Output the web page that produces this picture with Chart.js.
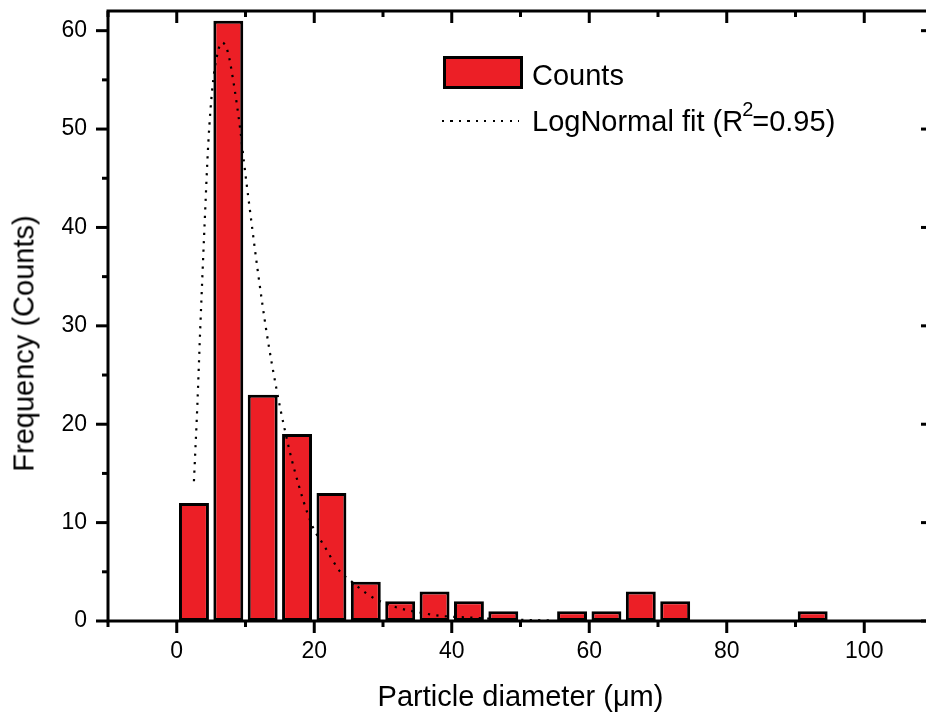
<!DOCTYPE html>
<html>
<head>
<meta charset="utf-8">
<script src="https://cdn.jsdelivr.net/npm/chart.js@4"></script>
<style>
  html, body { margin:0; padding:0; background:#fff; overflow:hidden; }
  #wrap { position:relative; width:940px; height:722px; }
  .txt { position:absolute; font-family:"Liberation Sans", Arial, sans-serif; font-size:29px; line-height:29px; color:#000; white-space:nowrap; }
  .sup { font-size:20px; position:relative; top:-15px; margin-left:-1px; margin-right:-1px; }
  #swatch { position:absolute; left:443px; top:56px; width:80px; height:33px; box-sizing:border-box; border:3px solid #000; background:#EC1F26; }
  #dots { position:absolute; left:442px; top:120px; width:77px; height:2px; background:repeating-linear-gradient(to right, #000 0 2px, transparent 2px 8.5px); }
  #ytitle { left:-126px; top:329px; width:300px; text-align:center; transform:rotate(-90deg); }
</style>
</head>
<body>
<div id="wrap">
  <canvas id="hist" width="940" height="722"></canvas>
  <div id="swatch"></div>
  <div class="txt" style="left:532px; top:61px;">Counts</div>
  <div id="dots"></div>
  <div class="txt" style="left:532px; top:107px;">LogNormal fit (R<span class="sup">2</span>=0.95)</div>
  <div class="txt" id="ytitle">Frequency (Counts)</div>
</div>
<script>
// histogram bins (centre of each 5 µm bin) and counts
const binCenters = [2.5, 7.5, 12.5, 17.5, 22.5, 27.5, 32.5, 37.5, 42.5, 47.5, 57.5, 62.5, 67.5, 72.5, 92.5];
const counts     = [12, 61, 23, 19, 13, 4, 2, 3, 2, 1, 1, 1, 3, 2, 1];

// lognormal fit curve
const fitX = [2.5, 3.0, 3.4, 4.0, 4.6, 5.2, 6.0, 6.6, 7.4, 8.2, 9.3, 9.75, 10.8, 11.8, 13.1, 14.5, 15.6, 17.1, 19.7, 21.3, 23.9, 25.1, 27.8, 29.3, 31.9, 35.8, 38.7, 42.6, 47.5, 54.5];
const fitY = [14.2, 22.0, 29.4, 39.5, 48.7, 54.3, 57.9, 58.8, 57.9, 55.0, 49.6, 46.8, 40.9, 35.5, 29.2, 23.6, 19.8, 15.4, 9.7, 7.8, 4.9, 4.2, 2.7, 2.1, 1.4, 0.8, 0.5, 0.35, 0.17, 0.05];

const xTickValues = [0, 20, 40, 60, 80, 100];
const yTickValues = [0, 10, 20, 30, 40, 50, 60];

Chart.defaults.font.family = '"Liberation Sans", Arial, sans-serif';
Chart.defaults.color = '#000';

// Origin-style box with major/minor ticks on all four sides
const frame = {
  id: 'frame',
  afterDatasetsDraw(chart) {
    const { ctx, chartArea: a, scales: { x, y } } = chart;
    const seg = (x1, y1, x2, y2) => { ctx.beginPath(); ctx.moveTo(x1, y1); ctx.lineTo(x2, y2); ctx.stroke(); };
    ctx.save();
    ctx.strokeStyle = '#000';
    ctx.lineWidth = 3;
    ctx.strokeRect(a.left, a.top, a.right - a.left, a.bottom - a.top);
    const xMinor = [xTickValues[0] - 10].concat(xTickValues.map(v => v + 10));
    const yMinor = yTickValues.map(v => v + 5).filter(v => v <= y.max);
    xTickValues.forEach(v => { const p = x.getPixelForValue(v); seg(p, a.bottom, p, a.bottom + 12); seg(p, a.top, p, a.top + 12); });
    xMinor.forEach(v => { const p = x.getPixelForValue(v); seg(p, a.bottom, p, a.bottom + 6); seg(p, a.top, p, a.top + 6); });
    yTickValues.forEach(v => { const p = y.getPixelForValue(v); seg(a.left - 12, p, a.left, p); seg(a.right - 12, p, a.right, p); });
    yMinor.forEach(v => { const p = y.getPixelForValue(v); seg(a.left - 6, p, a.left, p); seg(a.right - 6, p, a.right, p); });
    ctx.restore();
  }
};

new Chart(document.getElementById('hist').getContext('2d'), {
  type: 'bar',
  data: {
    datasets: [
      {
        type: 'line', label: 'LogNormal fit', order: 0,
        data: fitX.map((v, i) => ({ x: v, y: fitY[i] })),
        borderColor: '#000', borderWidth: 2.2, borderDash: [2.2, 6.3],
        pointRadius: 0, fill: false, cubicInterpolationMode: 'monotone'
      },
      {
        label: 'Counts', order: 1,
        data: binCenters.map((v, i) => ({ x: v, y: counts[i] })),
        backgroundColor: '#EC1F26', borderColor: '#000', borderWidth: 3, borderSkipped: false,
        barPercentage: 0.87, categoryPercentage: 1
      }
    ]
  },
  options: {
    responsive: false,
    animation: false,
    layout: { padding: { top: 11, right: 7, left: 0, bottom: 0 } },
    plugins: { legend: { display: false }, tooltip: { enabled: false } },
    scales: {
      x: {
        type: 'linear', min: -10, max: 110, offset: false,
        grid: { display: false, drawTicks: false, offset: false },
        border: { display: false },
        afterBuildTicks: s => { s.ticks = xTickValues.map(v => ({ value: v })); },
        afterFit: s => { s.height = 101; s.paddingLeft = 0; s.paddingRight = 0; },
        ticks: { font: { size: 23 }, color: '#000', padding: 17, maxRotation: 0, autoSkip: false },
        title: { display: true, text: 'Particle diameter (μm)', font: { size: 29 }, color: '#000', padding: { top: 0, bottom: 7 } }
      },
      y: {
        min: 0, max: 62,
        grid: { display: false, drawTicks: false },
        border: { display: false },
        afterBuildTicks: s => { s.ticks = yTickValues.map(v => ({ value: v })); },
        afterFit: s => { s.width = 108; s.paddingTop = 0; s.paddingBottom = 0; },
        ticks: { font: { size: 23 }, color: '#000', padding: 21 }
      }
    }
  },
  plugins: [frame]
});
</script>
</body>
</html>
